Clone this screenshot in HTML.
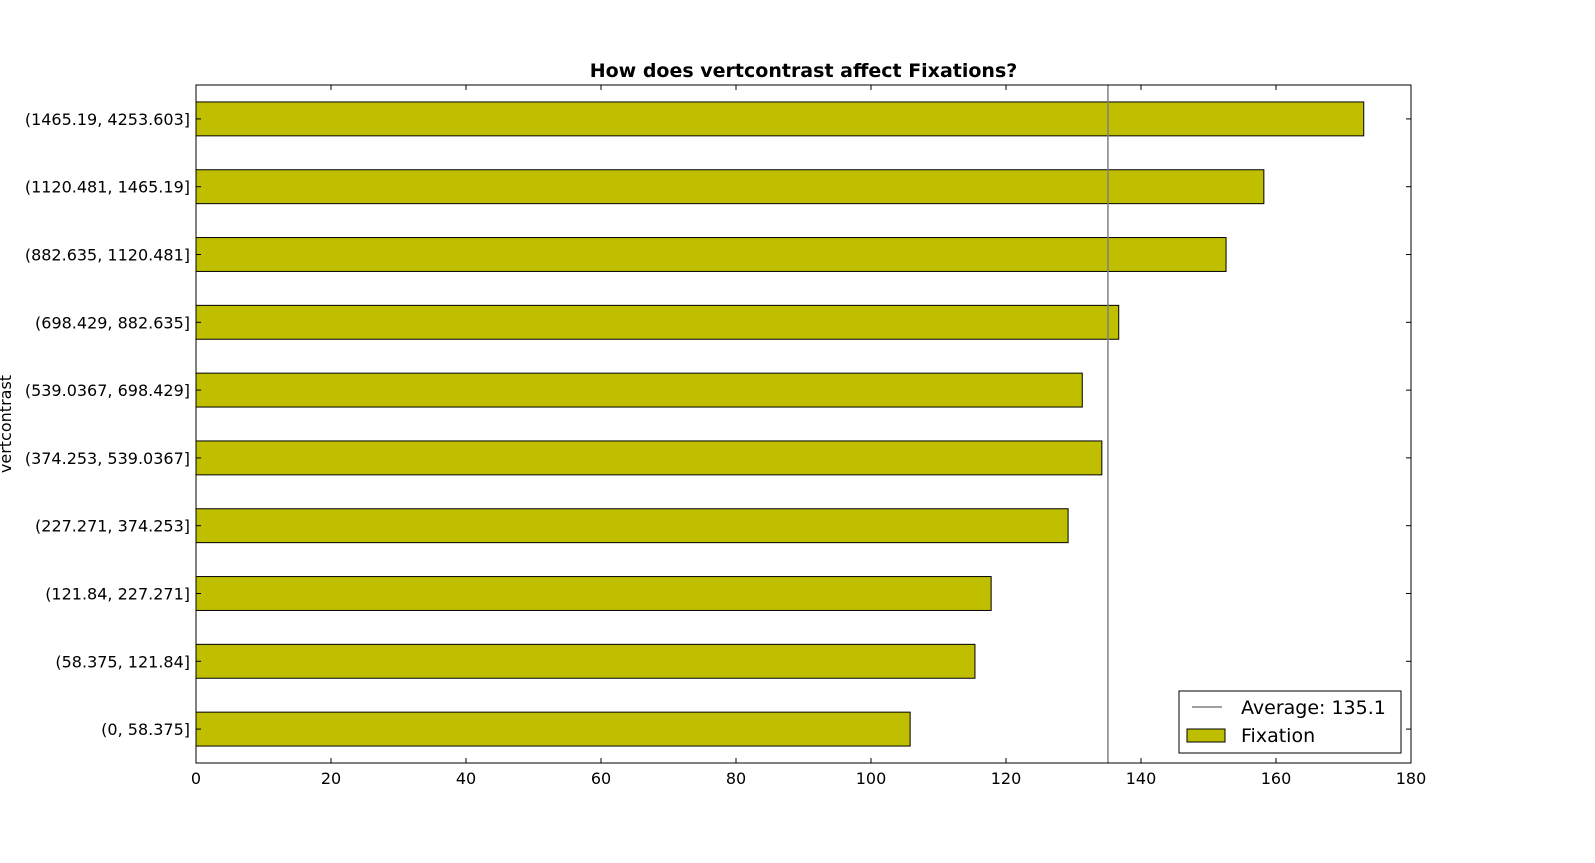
<!DOCTYPE html>
<html><head><meta charset="utf-8"><style>
html,body{margin:0;padding:0;background:#fff;overflow:hidden;width:1595px;height:863px;}
svg{display:block;}
svg text{font-family:"DejaVu Sans","Liberation Sans",sans-serif;}
</style></head><body>
<svg id="chart" width="1595" height="863" xmlns="http://www.w3.org/2000/svg">
<rect width="1595" height="863" fill="#fff"/>
<g id="bars"></g>
<g id="axes"></g>
</svg>
<script>
const categories=["(0, 58.375]","(58.375, 121.84]","(121.84, 227.271]","(227.271, 374.253]","(374.253, 539.0367]","(539.0367, 698.429]","(698.429, 882.635]","(882.635, 1120.481]","(1120.481, 1465.19]","(1465.19, 4253.603]"];
const values=[105.8,115.4,117.8,129.2,134.2,131.3,136.7,152.6,158.2,173.0];
const average=135.1;
const xTicks=[0,20,40,60,80,100,120,140,160,180];
const L=196,R=1411,T=85,B=763,xMax=180;
const NS="http://www.w3.org/2000/svg";
const bars=document.getElementById('bars'),axes=document.getElementById('axes');
function x(v){return L+(R-L)*v/xMax;}
const band=(B-T)/categories.length;
function yc(i){return B-band*(i+0.5);}
function mk(tag,attrs,parent,text){const e=document.createElementNS(NS,tag);for(const k in attrs)e.setAttribute(k,attrs[k]);if(text!==undefined)e.textContent=text;parent.appendChild(e);return e;}
values.forEach((v,i)=>{
 const r=mk('rect',{x:x(0),y:yc(i)-band*0.25,width:x(v)-x(0),height:band*0.5,fill:'#bfbf00',stroke:'#000','stroke-width':1},bars);
 
 
 const t=mk('text',{x:L-6,y:yc(i)+6,'text-anchor':'end','font-size':16},axes,categories[i]);
 
 
 mk('line',{x1:L,x2:L+5,y1:yc(i),y2:yc(i),stroke:'#000'},axes);
 mk('line',{x1:R,x2:R-5,y1:yc(i),y2:yc(i),stroke:'#000'},axes);
});
const avg=mk('line',{x1:x(average),x2:x(average),y1:T,y2:B,stroke:'#808080','stroke-width':1.5},axes);


xTicks.forEach(v=>{
 mk('line',{x1:x(v),x2:x(v),y1:B,y2:B-5,stroke:'#000'},axes);
 mk('line',{x1:x(v),x2:x(v),y1:T,y2:T+5,stroke:'#000'},axes);
 const t=mk('text',{x:x(v),y:B+21,'text-anchor':'middle','font-size':16},axes,v);
 
 
});
const fr=mk('rect',{x:L,y:T,width:R-L,height:B-T,fill:'none',stroke:'#000','stroke-width':1},axes);


const title=mk('text',{x:(L+R)/2,y:77,'text-anchor':'middle','font-size':19,'font-weight':'bold'},axes,'How does vertcontrast affect Fixations?');


const yt=mk('text',{x:11,y:424,'text-anchor':'middle','font-size':16,transform:'rotate(-90 11 424)'},axes,'vertcontrast');


const lg=mk('g',{},axes);


mk('rect',{x:1179,y:691,width:222,height:62,fill:'#fff',stroke:'#000'},lg);
mk('line',{x1:1192,x2:1222,y1:707,y2:707,stroke:'#808080','stroke-width':1.5},lg);
mk('text',{x:1241,y:714,'font-size':19},lg,'Average: 135.1');
mk('rect',{x:1187,y:729,width:38,height:13,fill:'#bfbf00',stroke:'#000'},lg);
mk('text',{x:1241,y:742,'font-size':19},lg,'Fixation');
</script>
</body></html>
